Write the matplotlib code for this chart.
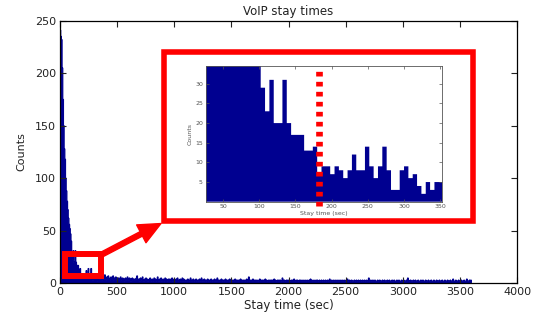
import numpy as np
import matplotlib.pyplot as plt
from matplotlib.patches import Rectangle

# histogram of VoIP stay times, 6 s bins starting at 0
BIN_WIDTH = 6

head_counts = [241, 235, 232, 205, 175, 150, 128, 118, 100, 88, 78, 70, 62, 56, 52, 47, 40,
               29, 23, 31, 20, 20, 31, 20, 17, 17, 17, 13, 13, 14, 7,
               9, 9, 7, 9, 8, 6, 8, 12, 8, 8, 14, 9, 6, 9, 14, 8, 3, 3, 8, 9,
               6, 7, 4, 2, 5, 3, 5, 5]

tail_counts = [
    4, 5, 3, 6, 5, 4, 8, 5, 3, 6, 4, 7, 5, 4, 3, 6, 5, 4, 7, 3, 5, 4, 6, 3, 5,
    4, 5, 3, 4, 6, 3, 4, 5, 3, 4, 2, 5, 4, 3, 6, 4, 3, 5, 4, 2, 4, 5, 3, 4, 3,
    4, 3, 5, 7, 4, 3, 4, 2, 5, 3, 4, 6, 3, 2, 4, 3, 5, 3, 4, 2, 3, 4, 5, 3, 2,
    4, 3, 2, 5, 3, 4, 2, 3, 6, 3, 2, 4, 3, 5, 2, 3, 4, 3, 2, 5, 3, 4, 2, 3, 4,
    3, 4, 2, 3, 5, 2, 3, 4, 3, 2, 4, 3, 5, 2, 3, 3, 4, 2, 3, 5, 2, 4, 3, 2, 3,
    3, 2, 4, 3, 2, 3, 5, 2, 3, 2, 4, 3, 2, 3, 4, 2, 3, 3, 2, 4, 3, 2, 5, 3, 2,
    3, 4, 2, 3, 2, 3, 4, 2, 3, 3, 2, 4, 3, 2, 3, 2, 4, 3, 2, 3, 5, 2, 3, 2, 3,
    2, 4, 3, 2, 3, 2, 3, 4, 2, 3, 2, 3, 2, 4, 3, 2, 3, 2, 3, 3, 2, 4, 2, 3, 2,
    3, 2, 3, 2, 4, 2, 3, 2, 3, 2, 3, 2, 3, 4, 2, 3, 6, 2, 3, 2, 3, 2, 4, 2, 3,
    2, 3, 2, 3, 2, 2, 3, 4, 2, 3, 2, 3, 2, 3, 2, 4, 2, 3, 2, 2, 3, 2, 3, 2, 3,
    2, 3, 2, 4, 2, 3, 2, 2, 3, 2, 3, 2, 3, 2, 2, 5, 3, 2, 3, 2, 2, 3, 2, 3, 2,
    3, 2, 2, 3, 2, 3, 2, 4, 2, 2, 3, 2, 3, 2, 2, 3, 2, 3, 2, 2, 3, 2, 2, 3, 2,
    2, 3, 2, 2, 3, 2, 4, 2, 3, 2, 2, 3, 2, 2, 3, 2, 3, 2, 2, 3, 2, 2, 3, 2, 2,
    3, 2, 2, 3, 2, 2, 3, 2, 2, 4, 2, 2, 3, 2, 2, 3, 2, 2, 3, 2, 2, 3, 2, 2, 3,
    2, 2, 3, 2, 2, 3, 2, 2, 3, 2, 4, 2, 2, 3, 2, 2, 3, 2, 2, 2, 3, 2, 2, 3, 2,
    2, 3, 2, 2, 3, 2, 2, 3, 2, 2, 3, 2, 2, 3, 2, 2, 5, 2, 2, 3, 2, 2, 3, 2, 2,
    3, 2, 2, 2, 3, 2, 2, 3, 2, 2, 2, 3, 2, 2, 3, 2, 2, 2, 3, 2, 2, 3, 2, 2, 2,
    3, 2, 2, 3, 2, 2, 2, 3, 2, 2, 3, 2, 2, 2, 3, 2, 2, 3, 2, 2, 2, 3, 2, 5, 3,
    2, 2, 3, 2, 2, 2, 3, 2, 2, 3, 2, 2, 2, 3, 2, 2, 2, 3, 2, 2, 3, 2, 2, 2, 3,
    2, 2, 2, 3, 2, 2, 2, 3, 2, 2, 2, 3, 2, 2, 2, 3, 2, 2, 2, 3, 2, 2, 2, 3, 2,
    2, 2, 3, 2, 2, 2, 3, 2, 2, 2, 3, 2, 2, 2, 4, 2, 2, 2, 3, 2, 2, 2, 3, 2, 2,
    2, 3, 2, 2, 2, 3, 2, 2, 2, 4, 2, 2, 2, 3, 2, 3]

counts = np.array(head_counts + tail_counts)
edges = np.arange(len(counts) + 1) * BIN_WIDTH

main_xticks = np.arange(0, 4001, 500)
main_yticks = np.arange(0, 251, 50)
inset_xticks = np.arange(50, 351, 50)
inset_yticks = np.arange(5, 31, 5)
cutoff = 182

bar_color = '#000090'

fig = plt.figure(figsize=(5.42, 3.16), dpi=100)
ax = fig.add_axes([0.1107, 0.1035, 0.8432, 0.831])
# outline drawn too so the thin bins look as solid as in the original
ax.stairs(counts, edges, fill=True, color=bar_color, ec=bar_color, lw=0.9)
ax.set_xlim(0, 4000)
ax.set_ylim(0, 250)
ax.set_xticks(main_xticks)
ax.set_yticks(main_yticks)
ax.tick_params(direction='in', top=True, right=True, length=4, width=0.8,
               labelsize=8, pad=3, colors='#222222')
for s in ax.spines.values():
    s.set_linewidth(0.9)
ax.set_title('VoIP stay times', fontsize=8.5, pad=4, color='#222222')
ax.set_xlabel('Stay time (sec)', fontsize=8.5, labelpad=1, color='#222222')
ax.set_ylabel('Counts', fontsize=8, labelpad=6, color='#222222',
              family=['Liberation Sans Narrow', 'DejaVu Sans'])

# zoom markers
ax.add_patch(Rectangle((44, 6.7), 315, 21.2, fill=False, ec='red', lw=4.3, zorder=5))
ax.add_patch(Rectangle((910, 59.6), 2705, 160.4, fill=False, ec='red', lw=4.0, zorder=5))
ax.annotate('', xy=(884, 56.9), xytext=(350, 26.5),
            arrowprops=dict(arrowstyle='simple,tail_width=0.36,head_width=1.45,head_length=1.6',
                            color='red', mutation_scale=10, shrinkA=0, shrinkB=0),
            zorder=6)

# inset
ins = fig.add_axes([0.3795, 0.3617, 0.4354, 0.4304])
ins.stairs(counts, edges, fill=True, color=bar_color, lw=0)
ins.set_xlim(26, 352)
ins.set_ylim(0, 34.6)
ins.set_xticks(inset_xticks)
ins.set_yticks(inset_yticks)
ins.tick_params(direction='in', top=True, right=True, length=2, width=0.5,
                labelsize=4.5, pad=2, colors='#555555')
for s in ins.spines.values():
    s.set_linewidth(0.6)
    s.set_color('#555555')
ins.set_xlabel('Stay time (sec)', fontsize=4.5, labelpad=1, color='#555555')
ins.set_ylabel('Counts', fontsize=4.5, labelpad=2, color='#555555')
ins.axvline(cutoff, ymin=-0.03, ymax=1, color='red', lw=4.8, dashes=(0.7, 0.8),
            clip_on=False, zorder=6)

fig.savefig('out.png', dpi=100)
